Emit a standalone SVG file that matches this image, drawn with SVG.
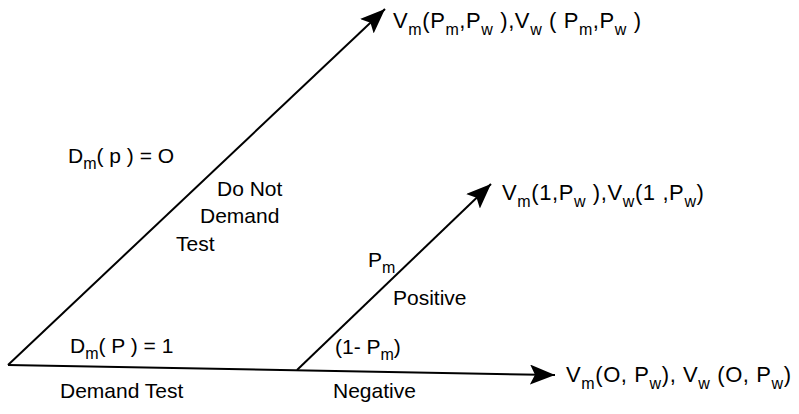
<svg xmlns="http://www.w3.org/2000/svg" width="799" height="414" viewBox="0 0 799 414">
<style>
text{font-family:"Liberation Sans",Arial,sans-serif;font-size:21px;fill:#000}
.o{font-size:22px;letter-spacing:0.6px}
.s{font-size:16px}
.ln{stroke:#000;stroke-width:2;fill:none}
</style>
<defs>
<marker id="ah" markerUnits="userSpaceOnUse" markerWidth="28" markerHeight="20" refX="25" refY="10" orient="auto">
<path d="M0,0 L25,10 L0,20 L5,10 Z" fill="#000"/>
</marker>
</defs>
<rect width="799" height="414" fill="#fff"/>
<g id="connectors">
<line class="ln" x1="8" y1="365" x2="385" y2="9" marker-end="url(#ah)"/>
<line class="ln" x1="8" y1="365" x2="555" y2="375" marker-end="url(#ah)"/>
<line class="ln" x1="297" y1="370" x2="491" y2="184" marker-end="url(#ah)"/>
</g>
<g id="outcome-no-test">
<text class="o" x="393" y="28">V<tspan class="s" dy="7">m</tspan><tspan dy="-7">(P</tspan><tspan class="s" dy="7">m</tspan><tspan dy="-7">,P</tspan><tspan class="s" dy="7">w</tspan><tspan dy="-7"> ),V</tspan><tspan class="s" dy="7">w</tspan><tspan dy="-7"> ( P</tspan><tspan class="s" dy="7">m</tspan><tspan dy="-7">,P</tspan><tspan class="s" dy="7">w</tspan><tspan dy="-7"> )</tspan></text>
</g>
<g id="outcome-positive">
<text class="o" x="502" y="200">V<tspan class="s" dy="7">m</tspan><tspan dy="-7">(1,P</tspan><tspan class="s" dy="7">w</tspan><tspan dy="-7"> ),V</tspan><tspan class="s" dy="7">w</tspan><tspan dy="-7">(1 ,P</tspan><tspan class="s" dy="7">w</tspan><tspan dy="-7">)</tspan></text>
</g>
<g id="outcome-negative">
<text class="o" x="566" y="382">V<tspan class="s" dy="7">m</tspan><tspan dy="-7">(O, P</tspan><tspan class="s" dy="7">w</tspan><tspan dy="-7">), V</tspan><tspan class="s" dy="7">w</tspan><tspan dy="-7"> (O, P</tspan><tspan class="s" dy="7">w</tspan><tspan dy="-7">)</tspan></text>
</g>
<g id="branch-labels">
<text x="68" y="163">D<tspan class="s" dy="6">m</tspan><tspan dy="-6">( p ) = O</tspan></text>
<text x="217" y="196">Do Not</text>
<text x="200" y="223">Demand</text>
<text x="176" y="251">Test</text>
<text x="70" y="353">D<tspan class="s" dy="6">m</tspan><tspan dy="-6">( P ) = 1</tspan></text>
<text x="60" y="398">Demand Test</text>
<text x="368" y="267">P<tspan class="s" dy="6">m</tspan></text>
<text x="393" y="305">Positive</text>
<text x="335" y="354">(1- P<tspan class="s" dy="6">m</tspan><tspan dy="-6">)</tspan></text>
<text x="333" y="398">Negative</text>
</g>
</svg>
